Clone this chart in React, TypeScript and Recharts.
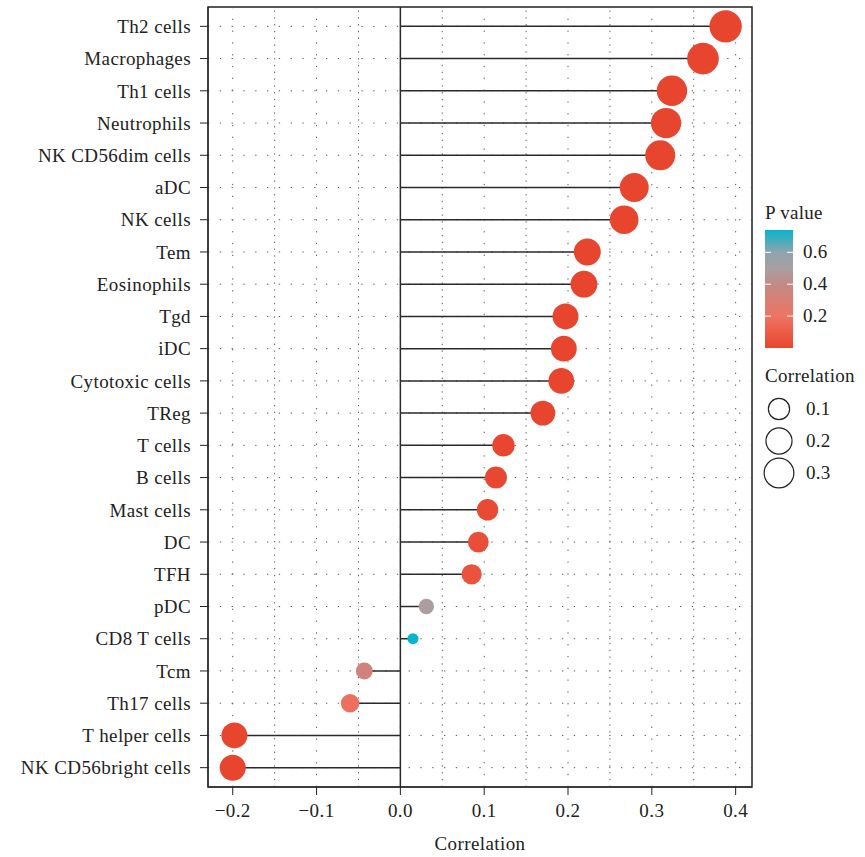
import React from 'react'
import { ScatterChart, Scatter, XAxis, YAxis, ReferenceLine, ReferenceArea } from 'recharts'

const cellTypes = [
  'Th2 cells', 'Macrophages', 'Th1 cells', 'Neutrophils', 'NK CD56dim cells', 'aDC',
  'NK cells', 'Tem', 'Eosinophils', 'Tgd', 'iDC', 'Cytotoxic cells', 'TReg', 'T cells',
  'B cells', 'Mast cells', 'DC', 'TFH', 'pDC', 'CD8 T cells', 'Tcm', 'Th17 cells',
  'T helper cells', 'NK CD56bright cells',
]
const correlations = [
  0.388, 0.361, 0.324, 0.317, 0.310, 0.279, 0.267, 0.223, 0.219, 0.197, 0.195, 0.192,
  0.170, 0.123, 0.114, 0.104, 0.093, 0.085, 0.031, 0.015, -0.043, -0.060, -0.198, -0.200,
]
const pValues = [
  0.0001, 0.0001, 0.0001, 0.0001, 0.0001, 0.0001, 0.0001, 0.0001, 0.0001, 0.0001, 0.0001, 0.0001,
  0.0002, 0.006, 0.012, 0.02, 0.04, 0.06, 0.49, 0.74, 0.34, 0.18, 0.0001, 0.0001,
]
const xTicks = [-0.2, -0.1, 0.0, 0.1, 0.2, 0.3, 0.4]
const xMinorGrid = [-0.15, -0.05, 0.05, 0.15, 0.25, 0.35]
const pTicks = [0.2, 0.4, 0.6]
const sizeTicks = [0.1, 0.2, 0.3]

// colour ramp for the P value scale (red -> grey -> cyan)
const colorStops: [number, string][] = [
  [0, '#E8452E'],
  [0.2, '#EE7463'],
  [0.4, '#C28A85'],
  [0.5, '#A9A0A1'],
  [0.6, '#8EA4AD'],
  [0.74, '#06B4CD'],
]

const FONT = '"Liberation Serif", "DejaVu Serif", serif'
const TEXT = '#222'
const X_DOMAIN: [number, number] = [-0.2295, 0.4195]
const Y_DOMAIN: [number, number] = [-0.6, cellTypes.length - 0.4]

const hex = (c: string) => [1, 3, 5].map(i => parseInt(c.slice(i, i + 2), 16))

function pColor(p: number) {
  if (p <= colorStops[0][0]) return colorStops[0][1]
  for (let i = 1; i < colorStops.length; i++) {
    const [p1, c1] = colorStops[i]
    const [p0, c0] = colorStops[i - 1]
    if (p <= p1) {
      const t = (p - p0) / (p1 - p0)
      const a = hex(c0)
      const b = hex(c1)
      return `rgb(${a.map((v, k) => Math.round(v + (b[k] - v) * t)).join(',')})`
    }
  }
  return colorStops[colorStops.length - 1][1]
}

const absCor = correlations.map(Math.abs)
const absMin = Math.min(...absCor)
const absMax = Math.max(...absCor)
const R_MIN = 5.5
const R_MAX = 16.2
function radius(v: number) {
  const t = Math.max(0, (Math.abs(v) - absMin) / (absMax - absMin))
  return R_MIN + (R_MAX - R_MIN) * Math.sqrt(t)
}

const data = cellTypes.map((name, i) => ({ name, x: correlations[i], y: i, p: pValues[i] }))

const fmt = (v: number) => (v < 0 ? '\u2212' + Math.abs(v).toFixed(1) : v.toFixed(1))

function Dot(props: any) {
  const { cx, cy, payload } = props
  if (cx == null || cy == null) return null
  return <circle cx={cx} cy={cy} r={radius(payload.x)} fill={pColor(payload.p)} />
}

function LegendPanel() {
  const barTop = 230
  const barBottom = 348
  const pMax = colorStops[colorStops.length - 1][0]
  const py = (p: number) => barBottom - (p / pMax) * (barBottom - barTop)
  return (
    <svg width={110} height={300} style={{ position: 'absolute', left: 755, top: 190 }}
      viewBox="755 190 110 300" fontFamily={FONT} fontSize={19} letterSpacing={0.3} fill={TEXT}>
      <defs>
        <linearGradient id="pgrad" x1="0" y1="1" x2="0" y2="0">
          {colorStops.map(([p, c]) => (
            <stop key={p} offset={p / pMax} stopColor={c} />
          ))}
        </linearGradient>
      </defs>
      <text x={765} y={219}>P value</text>
      <rect x={765} y={barTop} width={28} height={barBottom - barTop} fill="url(#pgrad)" />
      {pTicks.map(p => (
        <g key={p}>
          <line x1={765} x2={771} y1={py(p)} y2={py(p)} stroke="#fff" strokeWidth={1} />
          <line x1={787} x2={793} y1={py(p)} y2={py(p)} stroke="#fff" strokeWidth={1} />
          <text x={803} y={py(p) + 6}>{p.toFixed(1)}</text>
        </g>
      ))}
      <text x={765} y={382}>Correlation</text>
      {sizeTicks.map((v, i) => (
        <g key={v}>
          <circle cx={779} cy={409 + i * 32} r={radius(v)} fill="none" stroke={TEXT} strokeWidth={1.2} />
          <text x={806} y={415 + i * 32}>{v.toFixed(1)}</text>
        </g>
      ))}
    </svg>
  )
}

export default function App() {
  return (
    <div style={{ position: 'absolute', left: 0, top: 0, width: 865, height: 857, background: '#fff' }}>
      <ScatterChart width={865} height={857} margin={{ top: 7, right: 113, bottom: 10, left: 8 }}>
        <XAxis
          type="number"
          dataKey="x"
          domain={X_DOMAIN}
          ticks={xTicks}
          tickFormatter={fmt}
          allowDataOverflow
          height={60}
          tickSize={8}
          tickMargin={9}
          stroke={TEXT}
          tick={{ fill: TEXT, fontSize: 19, fontFamily: FONT, letterSpacing: 0.4 }}
          label={{ value: 'Correlation', position: 'insideBottom', offset: -3, fill: TEXT, fontSize: 19, fontFamily: FONT, letterSpacing: 0.4 }}
        />
        <YAxis
          type="number"
          dataKey="y"
          domain={Y_DOMAIN}
          reversed
          ticks={cellTypes.map((_, i) => i)}
          interval={0}
          tickFormatter={(i: number) => cellTypes[i] ?? ''}
          allowDataOverflow
          width={200}
          tickSize={8}
          tickMargin={9}
          stroke={TEXT}
          tick={{ fill: TEXT, fontSize: 19, fontFamily: FONT, letterSpacing: 0.4 }}
        />
        {cellTypes.map((_, i) => (
          <ReferenceLine key={'h' + i} y={i} stroke="#555" strokeWidth={1} strokeDasharray="1.3 10.5" />
        ))}
        {xTicks.map(v => (
          <ReferenceLine key={'v' + v} x={v} stroke="#555" strokeWidth={1} strokeDasharray="1.3 10.5" />
        ))}
        {xMinorGrid.map(v => (
          <ReferenceLine key={'m' + v} x={v} stroke="#555" strokeWidth={1} strokeDasharray="1.3 5.5" />
        ))}
        {data.map(d => (
          <ReferenceLine
            key={'s' + d.y}
            segment={[{ x: 0, y: d.y }, { x: d.x, y: d.y }]}
            stroke="#2a2a2a"
            strokeWidth={1.5}
          />
        ))}
        <ReferenceLine x={0} stroke="#2a2a2a" strokeWidth={1.5} />
        <Scatter data={data} shape={<Dot />} isAnimationActive={false} />
        <ReferenceArea
          x1={X_DOMAIN[0]}
          x2={X_DOMAIN[1]}
          y1={Y_DOMAIN[0]}
          y2={Y_DOMAIN[1]}
          fill="none"
          fillOpacity={0}
          stroke={TEXT}
          strokeWidth={1.5}
        />
      </ScatterChart>
      <LegendPanel />
    </div>
  )
}
